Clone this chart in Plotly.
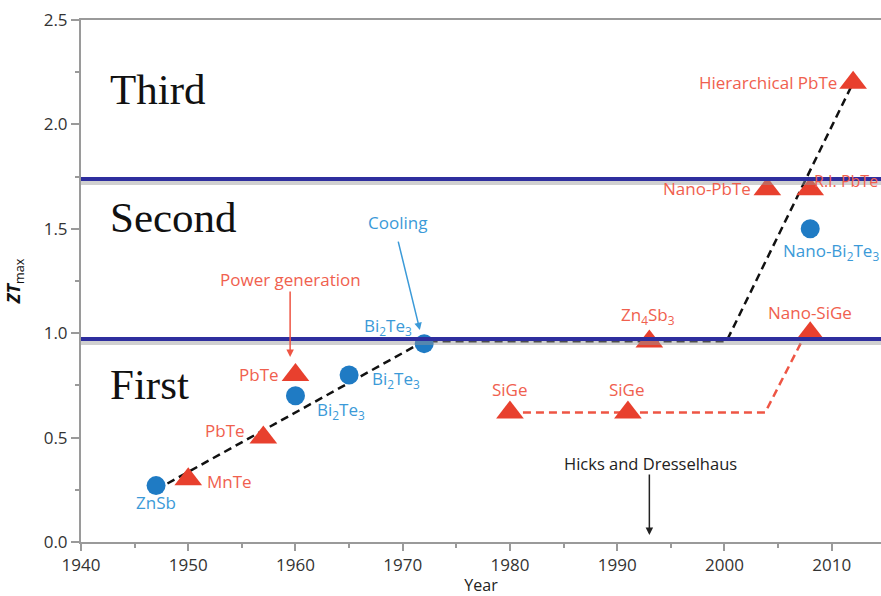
import plotly.graph_objects as go

# Thermoelectric materials: peak ZT by year of report
cool_years = [1947, 1960, 1965, 1972, 2008]
cool_zt = [0.27, 0.70, 0.80, 0.95, 1.50]

power_years = [1950, 1957, 1960, 1980, 1991, 1993, 2004, 2008, 2008, 2012]
power_zt = [0.30, 0.50, 0.80, 0.62, 0.62, 0.96, 1.69, 1.69, 1.00, 2.20]

# Trend guides
bulk_trend_x = [1947, 1972, 2000.2, 2012]
bulk_trend_y = [0.25, 0.962, 0.962, 2.20]
sige_trend_x = [1980, 2003.8, 2007.5]
sige_trend_y = [0.62, 0.62, 0.99]

# Generation boundaries
generation_bounds = [0.972, 1.738]
generation_names = ["First", "Second", "Third"]
generation_label_y = [0.752, 1.556, 2.165]

x_ticks = [1940, 1950, 1960, 1970, 1980, 1990, 2000, 2010]
y_ticks = [0.0, 0.5, 1.0, 1.5, 2.0, 2.5]

RED = "#e8402e"
RED_TXT = "#f0604e"
BLUE = "#1f7bc4"
BLUE_TXT = "#3b9ad8"
NAVY = "#2e2e9e"

# (x, y, text, colour, anchor, size)
labels = [
    (1947.0, 0.187, "ZnSb", BLUE_TXT, "center", 17),
    (1951.6, 0.29, "MnTe", RED_TXT, "left", 17),
    (1953.4, 0.536, "PbTe", RED_TXT, "center", 17),
    (1956.6, 0.80, "PbTe", RED_TXT, "center", 17),
    (1964.2, 0.63, "Bi<sub>2</sub>Te<sub>3</sub>", BLUE_TXT, "center", 17),
    (1969.4, 0.776, "Bi<sub>2</sub>Te<sub>3</sub>", BLUE_TXT, "center", 17),
    (1968.6, 1.03, "Bi<sub>2</sub>Te<sub>3</sub>", BLUE_TXT, "center", 17),
    (1980.0, 0.728, "SiGe", RED_TXT, "center", 17),
    (1990.9, 0.728, "SiGe", RED_TXT, "center", 17),
    (1992.9, 1.087, "Zn<sub>4</sub>Sb<sub>3</sub>", RED_TXT, "center", 17),
    (2008.0, 1.10, "Nano-SiGe", RED_TXT, "center", 17),
    (2002.7, 1.695, "Nano-PbTe", RED_TXT, "right", 17),
    (2014.5, 1.73, "R.I. PbTe", RED_TXT, "right", 16),
    (2005.3, 1.39, "Nano-Bi<sub>2</sub>Te<sub>3</sub>", BLUE_TXT, "left", 17),
    (2010.7, 2.20, "Hierarchical PbTe", RED_TXT, "right", 17),
]

LABEL_SIZE = 17

fig = go.Figure()

fig.add_trace(go.Scatter(
    x=bulk_trend_x, y=bulk_trend_y, mode="lines",
    line=dict(color="#111111", width=2.5, dash="8px,5px"),
    hoverinfo="skip", showlegend=False))
fig.add_trace(go.Scatter(
    x=sige_trend_x, y=sige_trend_y, mode="lines",
    line=dict(color="#ee5544", width=2.5, dash="8px,5px"),
    hoverinfo="skip", showlegend=False))
fig.add_trace(go.Scatter(
    x=cool_years, y=cool_zt, mode="markers",
    marker=dict(symbol="circle", size=19, color=BLUE, line=dict(width=0)),
    name="Cooling", showlegend=False))
fig.add_trace(go.Scatter(
    x=power_years, y=power_zt, mode="markers",
    marker=dict(symbol="triangle-up", size=24, color=RED, line=dict(width=0)),
    name="Power generation", showlegend=False))

# Generation boundary lines with a soft shadow beneath
for yb in generation_bounds:
    fig.add_shape(type="line", xref="paper", yref="y", x0=0, x1=1,
                  y0=yb - 0.014, y1=yb - 0.014,
                  line=dict(color="rgba(150,150,150,0.45)", width=6))
    fig.add_shape(type="line", xref="paper", yref="y", x0=0, x1=1,
                  y0=yb, y1=yb, line=dict(color=NAVY, width=4))

annotations = []
for name, gy in zip(generation_names, generation_label_y):
    annotations.append(dict(
        x=1942.5, y=gy, text=name, showarrow=False, xanchor="left",
        font=dict(family="Liberation Serif", size=43, color="#111111")))

for lx, ly, txt, col, anc, sz in labels:
    annotations.append(dict(
        x=lx, y=ly, text=txt, showarrow=False, xanchor=anc,
        font=dict(family="Open Sans", size=sz, color=col)))

# Callouts with arrows
annotations += [
    dict(x=1959.5, y=0.886, ax=0, ay=-67, text="", showarrow=True,
         arrowhead=2, arrowsize=1, arrowwidth=1.5, arrowcolor="#ee5544"),
    dict(x=1959.5, y=1.255, text="Power generation", showarrow=False,
         font=dict(family="Open Sans", size=LABEL_SIZE, color=RED_TXT)),
    dict(x=1971.6, y=1.015, ax=-22, ay=-90, text="", showarrow=True,
         arrowhead=2, arrowsize=1, arrowwidth=1.5, arrowcolor=BLUE_TXT),
    dict(x=1969.5, y=1.53, text="Cooling", showarrow=False,
         font=dict(family="Open Sans", size=LABEL_SIZE, color=BLUE_TXT)),
    dict(x=1993.0, y=0.034, ax=0, ay=-62, text="", showarrow=True,
         arrowhead=2, arrowsize=1, arrowwidth=1.5, arrowcolor="#222222"),
    dict(x=1993.1, y=0.378, text="Hicks and Dresselhaus", showarrow=False,
         font=dict(family="Open Sans", size=16.5, color="#222222")),
]

fig.update_layout(
    width=881, height=596,
    margin=dict(l=81, r=0, t=20, b=54),
    paper_bgcolor="white", plot_bgcolor="white",
    annotations=annotations,
    font=dict(family="Open Sans", color="#333333"),
)

fig.update_xaxes(
    range=[1940, 2014.6], tickvals=x_ticks,
    showgrid=False, zeroline=False,
    showline=True, linecolor="#9a9a9a", linewidth=2, mirror=True,
    ticks="outside", ticklen=7, tickwidth=1.5, tickcolor="#9a9a9a",
    minor=dict(dtick=5, ticks="outside", ticklen=4, tickcolor="#9a9a9a", tickwidth=1.5),
    tickfont=dict(size=17, color="#333333"),
    title=dict(text="Year", font=dict(size=16, color="#222222"), standoff=2),
)
fig.update_yaxes(
    range=[0, 2.5], tickvals=y_ticks, tickformat=".1f",
    showgrid=False, zeroline=False,
    showline=True, linecolor="#9a9a9a", linewidth=2,
    ticks="outside", ticklen=8, tickwidth=1.5, tickcolor="#9a9a9a",
    minor=dict(dtick=0.25, ticks="outside", ticklen=4, tickcolor="#9a9a9a", tickwidth=1.5),
    tickfont=dict(size=17, color="#333333"),
    title=dict(text="<b><i>ZT</i></b><sub>max</sub>",
               font=dict(size=18, color="#111111"), standoff=18),
)

fig.write_html("out.html")
